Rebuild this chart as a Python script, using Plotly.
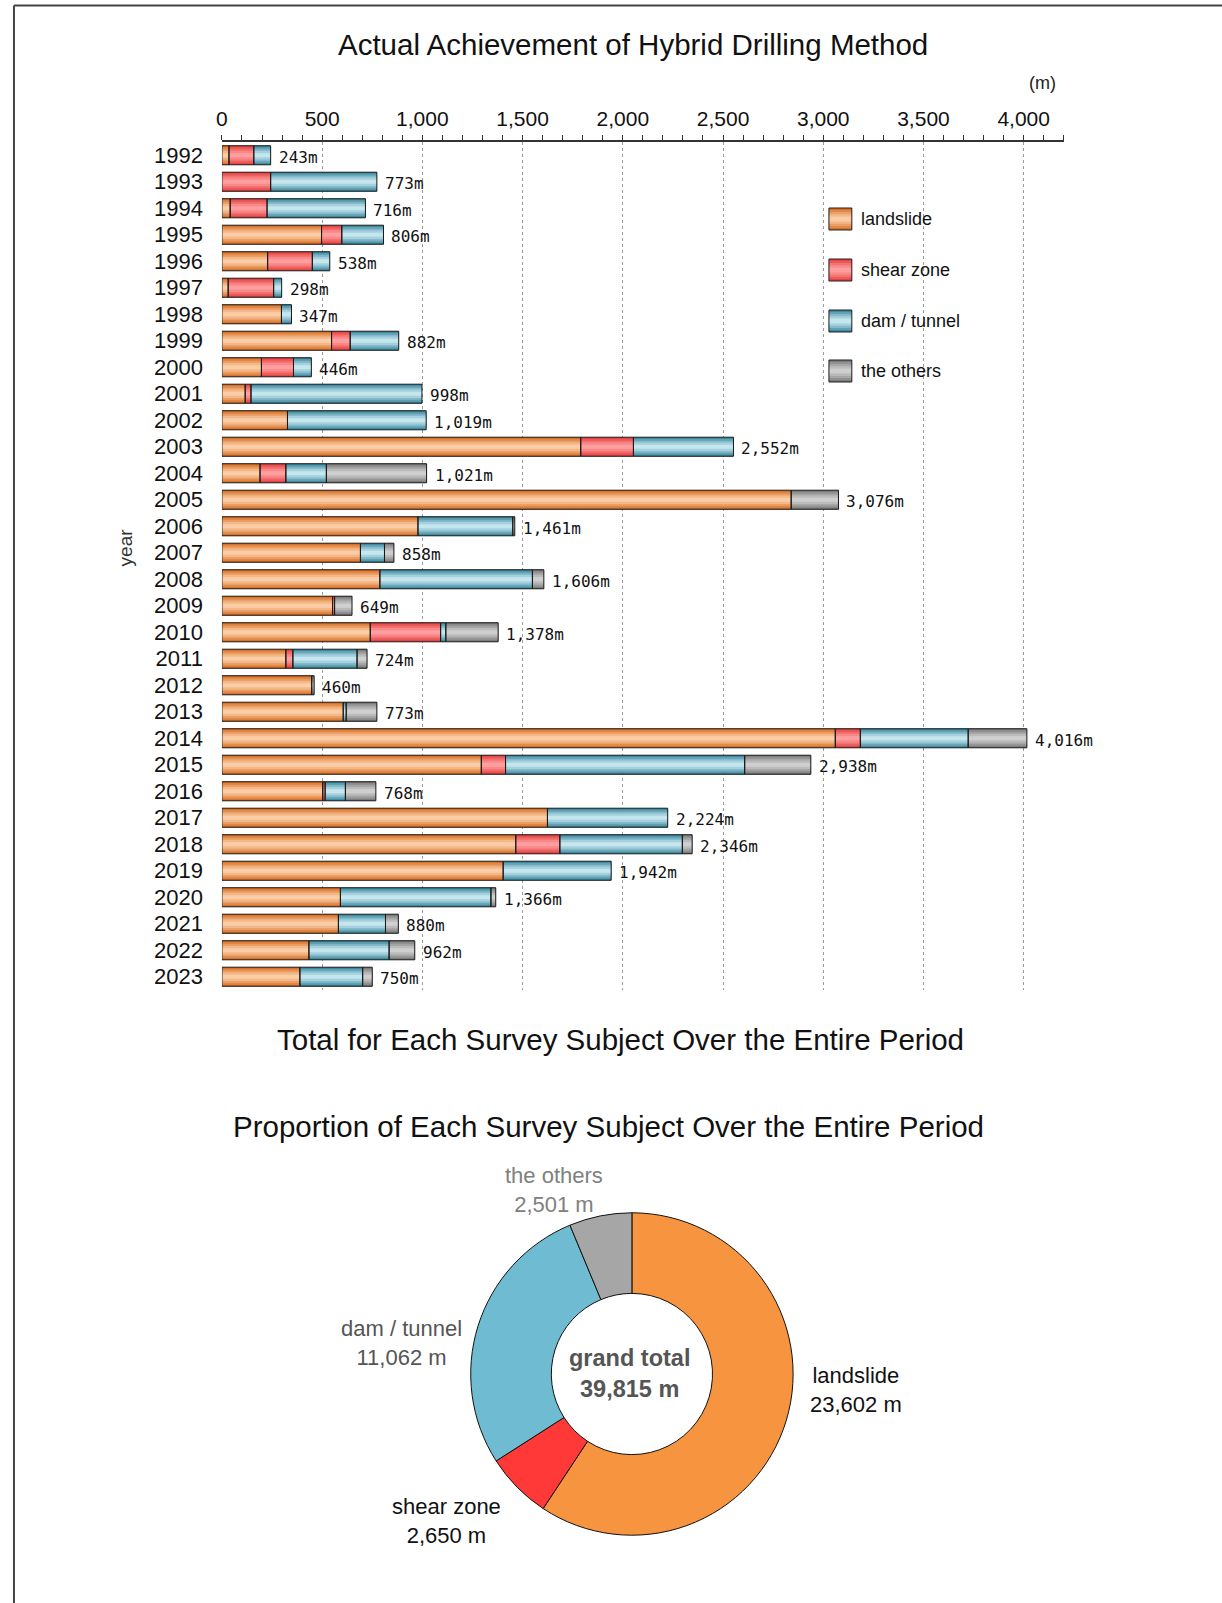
import plotly.graph_objects as go

W, H = 1222, 1603

# ---- yearly drilling length by survey subject (m) ----
years = [str(y) for y in range(1992, 2024)]
landslide = [35, 0, 41, 497, 228, 31, 297, 547, 197, 116, 327, 1790, 190, 2840, 978, 691,
             788, 552, 740, 319, 448, 605, 3060, 1294, 503, 1624, 1466, 1403, 591, 581, 434, 389]
shear_zone = [124, 243, 184, 101, 223, 227, 0, 93, 160, 29, 0, 263, 129, 0, 0, 0,
              0, 10, 351, 35, 0, 0, 125, 121, 12, 0, 220, 0, 0, 0, 0, 0]
dam_tunnel = [84, 530, 491, 208, 87, 40, 50, 242, 89, 853, 692, 499, 202, 0, 473, 120,
              761, 0, 26, 320, 0, 15, 538, 1193, 101, 600, 611, 539, 751, 235, 400, 313]
the_others = [0, 0, 0, 0, 0, 0, 0, 0, 0, 0, 0, 0, 500, 236, 10, 47,
              57, 87, 261, 50, 12, 153, 293, 330, 152, 0, 49, 0, 24, 64, 128, 48]
year_totals = [243, 773, 716, 806, 538, 298, 347, 882, 446, 998, 1019, 2552, 1021, 3076, 1461, 858,
               1606, 649, 1378, 724, 460, 773, 4016, 2938, 768, 2224, 2346, 1942, 1366, 880, 962, 750]

# ---- totals over the whole period (m) ----
subject_labels = ["landslide", "shear zone", "dam / tunnel", "the others"]
subject_totals = [23602, 2650, 11062, 2501]

x_ticks = [0, 500, 1000, 1500, 2000, 2500, 3000, 3500, 4000]

FONT = "Liberation Sans, Arial, sans-serif"

# edge / centre colours used to fake the cylindrical shading of the bars
shade = {
    "landslide": ("#D66A1E", "#FBCDA6"),
    "shear zone": ("#E43C3C", "#FF9E9E"),
    "dam / tunnel": ("#35849B", "#C4E6EE"),
    "the others": ("#767676", "#CFCFCF"),
}
pie_colors = ["#F7943F", "#FF3838", "#6FBCD2", "#A6A6A6"]


def px(x):
    return x / W


def py(y):
    return 1 - y / H


def blend(c1, c2, t):
    a = [int(c1[i:i + 2], 16) for i in (1, 3, 5)]
    b = [int(c2[i:i + 2], 16) for i in (1, 3, 5)]
    return "#" + "".join(f"{round(a[k] + (b[k] - a[k]) * t):02X}" for k in range(3))


BAR_W = 0.72
layers = [(1.0, 0.0), (0.84, 0.3), (0.64, 0.55), (0.44, 0.78), (0.22, 1.0)]

series = [("landslide", landslide), ("shear zone", shear_zone),
          ("dam / tunnel", dam_tunnel), ("the others", the_others)]

fig = go.Figure()

# stacked segments: compute bases from the running sum
bases = [0] * len(years)
segs = []
for name, vals in series:
    segs.append((name, vals, list(bases)))
    bases = [b + v for b, v in zip(bases, vals)]

for name, vals, base in segs:
    edge, centre = shade[name]
    xv = [v if v > 0 else None for v in vals]
    for frac, t in layers:
        fig.add_trace(go.Bar(
            orientation="h", y=years, x=xv, base=base, width=BAR_W * frac,
            marker=dict(color=blend(edge, centre, t), line=dict(width=0)),
            showlegend=False, hoverinfo="skip"))

for name, vals, base in segs:
    xv = [v if v > 0 else None for v in vals]
    fig.add_trace(go.Bar(
        orientation="h", y=years, x=xv, base=base, width=BAR_W,
        marker=dict(color="rgba(0,0,0,0)", line=dict(color="#1A1A1A", width=1)),
        name=name, showlegend=False, hovertemplate="%{y}: %{x:,} m<extra>" + name + "</extra>"))

annotations = []
# total labels at the end of each bar (y given as category index)
for i, tot in enumerate(year_totals):
    annotations.append(dict(
        x=tot, y=i, xref="x", yref="y", text=f"{tot:,}m", showarrow=False,
        xanchor="left", yanchor="middle", xshift=6, yshift=-2,
        font=dict(family="DejaVu Sans Mono, monospace", size=16, color="#111")))

# donut
fig.add_trace(go.Pie(
    values=subject_totals, labels=subject_labels, hole=0.5, sort=False,
    direction="clockwise", rotation=0, textinfo="none", showlegend=False,
    marker=dict(colors=pie_colors, line=dict(color="#111", width=1)),
    domain=dict(x=[px(467), px(791)], y=[py(1536), py(1212)])))

grand_total = sum(subject_totals)

texts = [
    ("Actual Achievement of Hybrid Drilling Method", 630, 44, 29.5, "#111"),
    ("Total for Each Survey Subject Over the Entire Period", 618, 1039, 29.5, "#111"),
    ("Proportion of Each Survey Subject Over the Entire Period", 605, 1126, 29.5, "#111"),
    ("(m)", 1042, 83, 18, "#222"),
]
for s, x, y, size, col in texts:
    annotations.append(dict(text=s, x=px(x), y=py(y), xref="paper", yref="paper",
                            showarrow=False, xanchor="center", yanchor="middle",
                            font=dict(family=FONT, size=size, color=col)))

annotations.append(dict(text="year", x=px(120), y=py(547), xref="paper", yref="paper",
                        showarrow=False, textangle=-90, xanchor="center", yanchor="middle",
                        font=dict(family=FONT, size=19, color="#333")))

# donut labels
pie_text = [
    (0, 854, 1390, "#111"),
    (1, 443, 1521, "#111"),
    (2, 397, 1343, "#555"),
    (3, 551, 1190, "#808080"),
]
for i, x, y, col in pie_text:
    annotations.append(dict(
        text=f"{subject_labels[i]}<br>{subject_totals[i]:,} m", x=px(x), y=py(y),
        xref="paper", yref="paper", showarrow=False, xanchor="center", yanchor="middle",
        align="center", font=dict(family=FONT, size=22, color=col)))

annotations.append(dict(
    text=f"<b>grand total</b><br><b>{grand_total:,} m</b>", x=px(627), y=py(1373),
    xref="paper", yref="paper", showarrow=False, xanchor="center", yanchor="middle",
    align="center", font=dict(family=FONT, size=23.5, color="#555")))

# legend drawn as shaded boxes plus labels
shapes = []
leg_rows = [219, 270, 321, 371]
for (name, _), yc in zip(series, leg_rows):
    edge, centre = shade[name]
    x0, x1 = 827, 850
    for frac, t in layers:
        h = 11 * frac
        shapes.append(dict(type="rect", xref="paper", yref="paper",
                           x0=px(x0), x1=px(x1), y0=py(yc + h), y1=py(yc - h),
                           fillcolor=blend(edge, centre, t), line=dict(width=0)))
    shapes.append(dict(type="rect", xref="paper", yref="paper",
                       x0=px(x0), x1=px(x1), y0=py(yc + 11), y1=py(yc - 11),
                       fillcolor="rgba(0,0,0,0)", line=dict(color="#222", width=1)))
    annotations.append(dict(text=name, x=px(857), y=py(yc), xref="paper", yref="paper",
                            showarrow=False, xanchor="left", yanchor="middle",
                            font=dict(family=FONT, size=18, color="#111")))

# page frame
shapes.append(dict(type="line", xref="paper", yref="paper", x0=px(8), x1=1,
                   y0=py(5.5), y1=py(5.5), line=dict(color="#444", width=2)))
shapes.append(dict(type="line", xref="paper", yref="paper", x0=px(8), x1=px(8),
                   y0=py(5.5), y1=0, line=dict(color="#444", width=2)))

fig.update_layout(
    width=W, height=H, margin=dict(l=0, r=0, t=0, b=0),
    paper_bgcolor="white", plot_bgcolor="white",
    barmode="overlay", showlegend=False,
    font=dict(family=FONT, color="#111"),
    annotations=annotations, shapes=shapes,
    xaxis=dict(
        domain=[px(217), px(1063)], range=[0, 4200], autorange=False, side="top",
        tickvals=x_ticks, ticktext=[f"{v:,}" for v in x_ticks],
        tickfont=dict(family=FONT, size=21, color="#111"),
        ticks="outside", ticklen=5, tickcolor="#333", ticklabelstandoff=1,
        minor=dict(dtick=100, ticks="outside", ticklen=5, tickcolor="#333", showgrid=False),
        showline=True, linecolor="#333", linewidth=1.5,
        showgrid=True, gridcolor="#9A9A9A", griddash="dot", gridwidth=1,
        zeroline=False, fixedrange=True),
    yaxis=dict(
        domain=[py(990), py(142)], type="category", categoryorder="array",
        categoryarray=years, range=[len(years) - 0.5, -0.5], autorange=False,
        tickfont=dict(family=FONT, size=22, color="#111"),
        ticks="", ticklabelstandoff=18,
        showline=False, showgrid=False, zeroline=False, fixedrange=True),
)

fig.write_html("out.html")
